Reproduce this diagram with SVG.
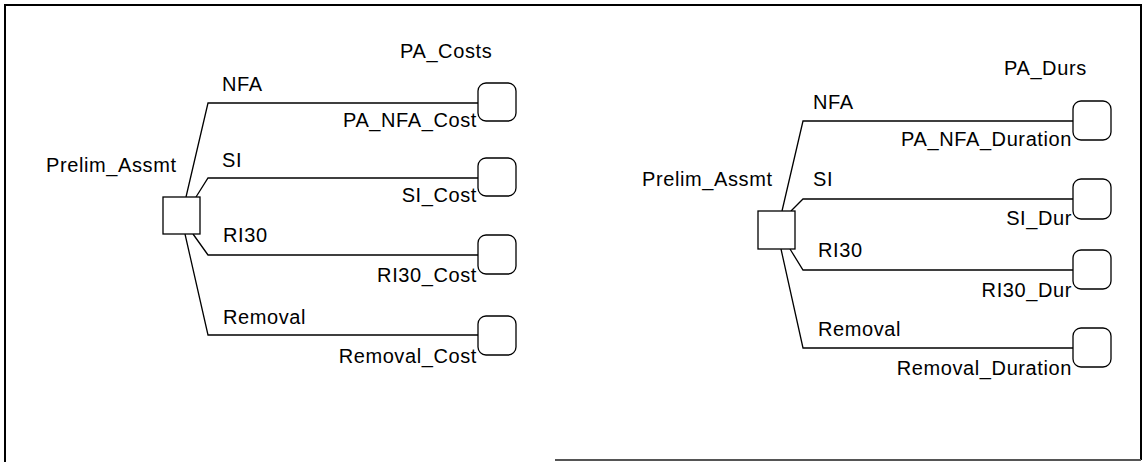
<svg xmlns="http://www.w3.org/2000/svg" width="1146" height="462" viewBox="0 0 1146 462">
<style>
text{font-family:"Liberation Sans",Arial,sans-serif;font-size:20px;letter-spacing:0.6px;fill:#000}
.e{text-anchor:end}
.dec{fill:#fff;stroke:#000;stroke-width:1.3}
.val{fill:#fff;stroke:#000;stroke-width:1.3}
.arc{fill:none;stroke:#000;stroke-width:1.3}
.frame{fill:none;stroke:#000;stroke-width:2}
</style>
<rect width="1146" height="462" fill="#fff"/>
<path class="frame" d="M5,462 V5 H1141 V460"/>
<line x1="555" y1="460" x2="1141" y2="460" stroke="#555" stroke-width="2"/>
<g id="connectors">
<polyline class="arc" points="186,197 208,103 478,103"/>
<polyline class="arc" points="196,197 208,178 478,178"/>
<polyline class="arc" points="193,234 208,255 478,255"/>
<polyline class="arc" points="185,234 208,335 478,335"/>
<polyline class="arc" points="782,211 803,121 1073,121"/>
<polyline class="arc" points="791,211 803,199 1073,199"/>
<polyline class="arc" points="790,249 803,270 1073,270"/>
<polyline class="arc" points="781,249 803,348 1073,348"/>
</g>
<g id="labels">
<text x="222" y="91">NFA</text>
<text x="222" y="167">SI</text>
<text x="223" y="242">RI30</text>
<text x="223" y="324">Removal</text>
<text x="813" y="109">NFA</text>
<text x="813" y="186">SI</text>
<text x="818" y="257">RI30</text>
<text x="818" y="336">Removal</text>
</g>
<g id="prelim1">
<rect class="dec" x="163" y="197" width="37" height="37"/>
<text x="46" y="172">Prelim_Assmt</text>
</g>
<g id="pa_costs">
<text x="400" y="58">PA_Costs</text>
</g>
<g id="pa_nfa_cost">
<rect class="val" x="478" y="83" width="38" height="38" rx="8"/>
<text class="e" x="477" y="127">PA_NFA_Cost</text>
</g>
<g id="si_cost">
<rect class="val" x="478" y="158" width="38" height="38" rx="8"/>
<text class="e" x="477" y="202">SI_Cost</text>
</g>
<g id="ri30_cost">
<rect class="val" x="478" y="235" width="38" height="39" rx="8"/>
<text class="e" x="477" y="282">RI30_Cost</text>
</g>
<g id="removal_cost">
<rect class="val" x="478" y="316" width="38" height="39" rx="8"/>
<text class="e" x="477" y="363">Removal_Cost</text>
</g>
<g id="prelim2">
<rect class="dec" x="758" y="211" width="37" height="38"/>
<text x="642" y="186">Prelim_Assmt</text>
</g>
<g id="pa_durs">
<text x="1004" y="75">PA_Durs</text>
</g>
<g id="pa_nfa_duration">
<rect class="val" x="1073" y="101" width="38" height="39" rx="8"/>
<text class="e" x="1072" y="146">PA_NFA_Duration</text>
</g>
<g id="si_dur">
<rect class="val" x="1073" y="179" width="38" height="40" rx="8"/>
<text class="e" x="1072" y="225">SI_Dur</text>
</g>
<g id="ri30_dur">
<rect class="val" x="1073" y="250" width="38" height="39" rx="8"/>
<text class="e" x="1072" y="297">RI30_Dur</text>
</g>
<g id="removal_duration">
<rect class="val" x="1073" y="328" width="38" height="39" rx="8"/>
<text class="e" x="1072" y="375">Removal_Duration</text>
</g>
</svg>
